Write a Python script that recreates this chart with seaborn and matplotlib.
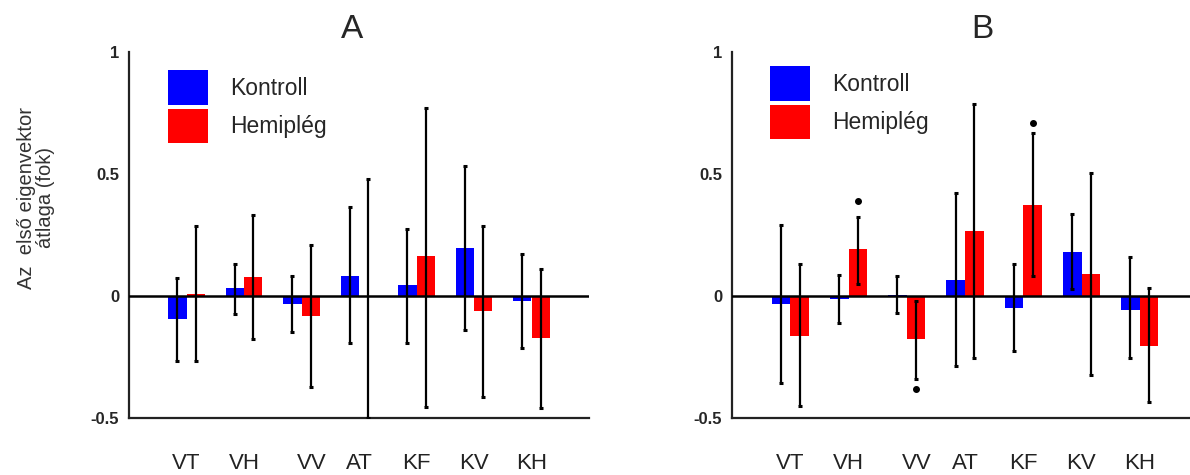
import matplotlib
matplotlib.use("Agg")
import matplotlib.pyplot as plt
import matplotlib.transforms as mtransforms
import seaborn as sns
import numpy as np
import pandas as pd

categories = ["VT", "VH", "VV", "AT", "KF", "KV", "KH"]
groups = ["Kontroll", "Hemiplég"]

# Panel A
a_kontroll = [-0.095, 0.031, -0.034, 0.084, 0.044, 0.197, -0.020]
a_kontroll_lo = [-0.265, -0.075, -0.147, -0.193, -0.193, -0.140, -0.215]
a_kontroll_hi = [0.075, 0.133, 0.082, 0.365, 0.275, 0.533, 0.174]
a_hemi = [0.010, 0.078, -0.082, 0.000, 0.163, -0.061, -0.174]
a_hemi_lo = [-0.265, -0.177, -0.371, -0.500, -0.456, -0.415, -0.458]
a_hemi_hi = [0.286, 0.330, 0.210, 0.479, 0.769, 0.288, 0.112]

# Panel B
b_kontroll = [-0.031, -0.014, 0.003, 0.067, -0.048, 0.180, -0.056]
b_kontroll_lo = [-0.358, -0.110, -0.068, -0.286, -0.224, 0.030, -0.256]
b_kontroll_hi = [0.293, 0.088, 0.080, 0.422, 0.132, 0.336, 0.160]
b_hemi = [-0.163, 0.193, -0.178, 0.265, 0.374, 0.091, -0.205]
b_hemi_lo = [-0.450, 0.050, -0.340, -0.253, 0.084, -0.324, -0.433]
b_hemi_hi = [0.132, 0.325, -0.020, 0.785, 0.667, 0.503, 0.034]

b_sig_cats = ["VH", "VV", "KF"]
b_sig_y = [0.39, -0.382, 0.71]

yticks = [-0.5, 0, 0.5, 1]
ytick_labels = ["-0.5", "0", "0.5", "1"]
colors = {"Kontroll": "#0000ff", "Hemiplég": "#ff0000"}

sns.set_style("white")
plt.rcParams["font.family"] = ["Liberation Sans", "DejaVu Sans"]

fig = plt.figure(figsize=(11.9, 4.75), dpi=100)
H = 475.0
W = 1190.0
axA = fig.add_axes([129 / W, (H - 418) / H, 460 / W, 366 / H])
axB = fig.add_axes([732 / W, (H - 418) / H, 466 / W, 366 / H])


def make_df(k, h):
    return pd.DataFrame({
        "cat": categories * 2,
        "group": [groups[0]] * len(categories) + [groups[1]] * len(categories),
        "val": list(k) + list(h),
    })


def draw(ax, k, klo, khi, h, hlo, hhi, legend_anchor):
    df = make_df(k, h)
    sns.barplot(data=df, x="cat", y="val", hue="group", order=categories,
                hue_order=groups, palette=colors, width=0.64, errorbar=None,
                saturation=1, linewidth=0, ax=ax, zorder=2)
    ax.axhline(0, color="black", lw=1.8, zorder=3)
    for cont, vals, lo, hi in zip(ax.containers, [k, h], [klo, hlo], [khi, hhi]):
        xs = [p.get_x() + p.get_width() / 2 for p in cont]
        vals = np.array(vals)
        yerr = [vals - np.array(lo), np.array(hi) - vals]
        ax.errorbar(xs, vals, yerr=yerr, fmt="none", ecolor="black",
                    elinewidth=1.6, capsize=1.6, capthick=2.2, zorder=4)
    ax.set_ylim(-0.5, 1.0)
    ax.set_yticks(yticks)
    ax.set_yticklabels(ytick_labels, fontsize=12, fontweight="bold")
    ax.set_xticks(range(len(categories)))
    ax.set_xticklabels(categories, fontsize=16, color="#222222")
    ax.tick_params(axis="x", direction="in", length=3, width=1.5,
                   color="black", pad=25)
    ax.tick_params(axis="y", direction="in", length=3, width=1.2,
                   color="black", pad=7)
    shift = mtransforms.ScaledTranslation(10 / 100, 0, fig.dpi_scale_trans)
    for lab in ax.get_xticklabels():
        if lab.get_text() == "VV":
            lab.set_transform(lab.get_transform() + shift)
    ax.set_xlabel("")
    ax.set_ylabel("")
    for s in ["top", "right"]:
        ax.spines[s].set_visible(False)
    for s in ["left", "bottom"]:
        ax.spines[s].set_color("#222222")
        ax.spines[s].set_linewidth(1.6)
    handles, labels = ax.get_legend_handles_labels()
    if ax.get_legend() is not None:
        ax.get_legend().remove()
    ax.legend(handles, labels, loc="upper left", bbox_to_anchor=legend_anchor,
              frameon=False, fontsize=16.5, handlelength=1.74,
              handleheight=1.96, labelspacing=0.17, handletextpad=0.96,
              borderpad=0, borderaxespad=0)


draw(axA, a_kontroll, a_kontroll_lo, a_kontroll_hi, a_hemi, a_hemi_lo,
     a_hemi_hi, (0.085, 0.951))
axA.set_xlim(-1, 7)

draw(axB, b_kontroll, b_kontroll_lo, b_kontroll_hi, b_hemi, b_hemi_lo,
     b_hemi_hi, (0.082, 0.962))
axB.set_xlim(-1, 7)

# significance markers on panel B (Hemiplég bars)
red_cont = axB.containers[1]
red_x = {c: p.get_x() + p.get_width() / 2 for c, p in zip(categories, red_cont)}
axB.plot([red_x[c] for c in b_sig_cats], b_sig_y, "o", color="black", ms=4,
         zorder=5, clip_on=False)

fig.text(352 / W, 1 - 30 / H, "A", fontsize=24, ha="center", va="center")
fig.text(982 / W, 1 - 30 / H, "B", fontsize=24, ha="center", va="center")
fig.text(36 / W, 1 - 198 / H, "Az  első eigenvektor\nátlaga (fok)",
         rotation=90, ha="center", va="center", fontsize=14.5,
         linespacing=1.05, color="#333333", multialignment="center")

fig.savefig("out.png", dpi=100)
